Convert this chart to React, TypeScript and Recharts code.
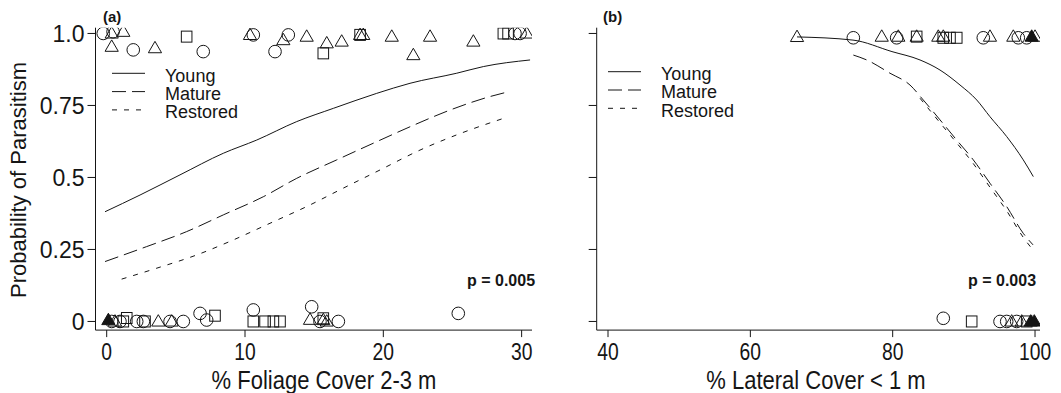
import React from 'react';
import { ComposedChart, Line, Scatter, XAxis, YAxis } from 'recharts';

const INK = '#151515';
const FONT = '"Liberation Sans", Arial, Helvetica, sans-serif';

// fitted curves, [x, probability]
const youngA = [[-0.12, 0.381], [2.41, 0.439], [5.3, 0.509], [8.43, 0.584], [10.85, 0.63], [13.74, 0.694], [16.39, 0.74], [19.52, 0.792], [21.93, 0.827], [25.31, 0.862], [27.23, 0.885], [30.61, 0.908]];
const matureA = [[-0.12, 0.208], [2.89, 0.26], [5.78, 0.312], [8.43, 0.37], [11.32, 0.433], [13.74, 0.497], [16.63, 0.561], [19.28, 0.619], [21.93, 0.676], [24.82, 0.734], [27.72, 0.781], [28.92, 0.796]];
const restoredA = [[1.08, 0.147], [3.62, 0.185], [6.51, 0.231], [9.15, 0.283], [11.81, 0.341], [14.46, 0.399], [17.11, 0.463], [19.76, 0.526], [22.65, 0.595], [25.31, 0.648], [28.8, 0.707]];

const youngB = [[66.56, 0.988], [74.42, 0.977], [79.9, 0.937], [83.84, 0.908], [86.65, 0.873], [89.46, 0.821], [91.81, 0.769], [93.67, 0.711], [96.02, 0.642], [98.35, 0.561], [99.76, 0.503]];
const matureB = [[74.47, 0.925], [76.35, 0.908], [79.62, 0.862], [82.43, 0.821], [84.3, 0.769], [86.65, 0.7], [88.99, 0.63], [91.33, 0.561], [93.67, 0.48], [96.02, 0.399], [98.35, 0.306], [99.72, 0.266]];
const restoredB = [[83.84, 0.775], [86.65, 0.69], [88.99, 0.62], [91.33, 0.548], [93.67, 0.466], [96.02, 0.384], [98.35, 0.292], [99.76, 0.247]];

// observed nests (1 = parasitised, 0 = not), by marker shape
const circlesA = [[-0.25, 1.0], [0.46, 1.006], [1.92, 0.943], [6.98, 0.937], [10.6, 0.995], [12.17, 0.937], [13.13, 0.995], [29.52, 1.0], [29.89, 1.0],
  [0.36, 0], [0.96, 0], [2.17, 0], [2.65, 0], [4.58, 0], [5.54, 0], [6.75, 0.028], [7.23, 0.005], [10.6, 0.04], [14.82, 0.051], [15.42, 0], [16.75, 0], [25.42, 0.028]];
const trianglesA = [[0.36, 1.0], [0.36, 0.954], [1.2, 1.006], [3.49, 0.949], [10.36, 0.995], [12.77, 0.977], [14.46, 0.989], [15.91, 0.966], [16.99, 0.972], [18.32, 0.995], [18.55, 0.995], [20.61, 0.989], [22.17, 0.925], [23.38, 0.989], [26.51, 0.972], [30.37, 1.0],
  [0.6, 0], [3.73, 0], [4.7, 0], [14.7, 0.006], [15.66, 0.005], [15.91, 0]];
const squaresA = [[5.78, 0.989], [15.66, 0.931], [18.32, 0.995], [28.68, 1.0], [29.02, 1.0],
  [1.2, 0], [1.45, 0.012], [2.77, 0], [7.83, 0.02], [10.6, 0], [11.45, 0], [12.05, 0], [12.53, 0], [15.66, 0.011]];
const filledA = [[0.12, 0.005]];

const circlesB = [[74.47, 0.985], [80.56, 0.985], [92.73, 0.985], [97.65, 0.985], [98.83, 0.985],
  [87.11, 0.011], [95.08, 0], [96.02, 0], [97.42, 0]];
const trianglesB = [[66.56, 0.988], [78.46, 0.989], [80.79, 0.989], [83.37, 0.989], [86.41, 0.989], [87.11, 0.989], [93.67, 0.989], [96.95, 0.989], [100.0, 0.989],
  [96.72, 0], [98.13, 0]];
const squaresB = [[83.37, 0.989], [87.11, 0.985], [88.05, 0.985], [89.0, 0.985],
  [91.1, 0], [98.83, 0]];
const filledB = [[99.53, 0.989], [99.4, 0], [99.9, 0]];

const xTicksA = [0, 10, 20, 30];
const xTicksB = [40, 60, 80, 100];
const yTicks = [0, 0.25, 0.5, 0.75, 1];

const legendItems = [
  { name: 'Young', dash: undefined },
  { name: 'Mature', dash: '14 6' },
  { name: 'Restored', dash: '5 7' },
];

const pts = (arr: number[][]) => arr.map(([x, p]) => ({ x, p }));

const OpenCircle = (props: any) => (
  <circle cx={props.cx} cy={props.cy} r={6.3} fill="none" stroke={INK} strokeWidth={1} />
);
const triPoints = (cx: number, cy: number) => `${cx},${cy - 6.8} ${cx + 6.6},${cy + 4.6} ${cx - 6.6},${cy + 4.6}`;
const OpenTriangle = (props: any) => (
  <polygon points={triPoints(props.cx, props.cy)} fill="none" stroke={INK} strokeWidth={1} />
);
const FilledTriangle = (props: any) => (
  <polygon points={triPoints(props.cx, props.cy)} fill={INK} stroke={INK} strokeWidth={1} />
);
const OpenSquare = (props: any) => (
  <rect x={props.cx - 5.3} y={props.cy - 5.5} width={10.6} height={11} fill="none" stroke={INK} strokeWidth={1} />
);

const yLabel = (v: number) => (v === 0 ? '0' : v === 1 ? '1.0' : String(v));

const YTick = (props: any) => (
  <text x={props.x} y={props.y} dy={8.2} textAnchor="end" fontSize={23} fill={INK} fontFamily={FONT}>
    {yLabel(props.payload.value)}
  </text>
);
const NoTick = () => <g />;
const XTick = (props: any) => (
  <g transform={`translate(${props.x},${props.y + 21}) scale(0.84,1)`}>
    <text textAnchor="middle" fontSize={23} fill={INK} fontFamily={FONT}>
      {props.payload.value}
    </text>
  </g>
);

function Panel({ left, width, yWidth, right, domain, ticks, young, mature, restored, circles, triangles, squares, filled, labels }: any) {
  return (
    <div style={{ position: 'absolute', left, top: 0 }}>
      <ComposedChart width={width} height={393} margin={{ top: 27.7, right, bottom: 0, left: 0 }}>
        <XAxis
          type="number"
          dataKey="x"
          domain={domain}
          ticks={ticks}
          interval={0}
          allowDataOverflow
          height={62.9}
          tickSize={7}
          tickMargin={2}
          axisLine={{ stroke: INK }}
          tickLine={{ stroke: INK }}
          tick={<XTick />}
        />
        <YAxis
          type="number"
          dataKey="p"
          domain={[-0.03, 1.02]}
          ticks={yTicks}
          interval={0}
          allowDataOverflow
          width={yWidth}
          tickSize={8}
          tickMargin={3}
          axisLine={{ stroke: INK }}
          tickLine={{ stroke: INK }}
          tick={labels ? <YTick /> : <NoTick />}
        />
        <Line data={pts(young)} dataKey="p" type="monotone" stroke={INK} strokeWidth={1} dot={false} activeDot={false} isAnimationActive={false} />
        <Line data={pts(mature)} dataKey="p" type="monotone" stroke={INK} strokeWidth={1} strokeDasharray="14 6" dot={false} activeDot={false} isAnimationActive={false} />
        <Line data={pts(restored)} dataKey="p" type="monotone" stroke={INK} strokeWidth={1} strokeDasharray="5 7" dot={false} activeDot={false} isAnimationActive={false} />
        <Scatter data={pts(circles)} shape={OpenCircle} isAnimationActive={false} />
        <Scatter data={pts(triangles)} shape={OpenTriangle} isAnimationActive={false} />
        <Scatter data={pts(squares)} shape={OpenSquare} isAnimationActive={false} />
        <Scatter data={pts(filled)} shape={FilledTriangle} isAnimationActive={false} />
      </ComposedChart>
    </div>
  );
}

function Legend({ x, y }: { x: number; y: number }) {
  return (
    <g>
      {legendItems.map((item, i) => (
        <g key={item.name}>
          <line x1={x} x2={x + 33} y1={y + i * 18.3} y2={y + i * 18.3} stroke={INK} strokeWidth={1} strokeDasharray={item.dash} />
          <text x={x + 53} y={y + i * 18.3 + 8.2} fontSize={18} fill={INK} fontFamily={FONT}>
            {item.name}
          </text>
        </g>
      ))}
    </g>
  );
}

export default function App() {
  return (
    <div style={{ position: 'absolute', left: 0, top: 0, width: 1061, height: 393, background: '#fff' }}>
      <Panel
        left={0}
        width={545}
        yWidth={95.5}
        right={13}
        domain={[-0.81, 30.75]}
        ticks={xTicksA}
        young={youngA}
        mature={matureA}
        restored={restoredA}
        circles={circlesA}
        triangles={trianglesA}
        squares={squaresA}
        filled={filledA}
        labels
      />
      <Panel
        left={545}
        width={516}
        yWidth={51.7}
        right={21}
        domain={[38.41, 100.7]}
        ticks={xTicksB}
        young={youngB}
        mature={matureB}
        restored={restoredB}
        circles={circlesB}
        triangles={trianglesB}
        squares={squaresB}
        filled={filledB}
        labels={false}
      />
      <svg width={1061} height={393} style={{ position: 'absolute', left: 0, top: 0, pointerEvents: 'none' }}>
        <text transform="translate(25.5,180) rotate(-90)" textAnchor="middle" fontSize={22} fill={INK} fontFamily={FONT}>
          Probability of Parasitism
        </text>
        <g transform="translate(324,389) scale(0.88,1)">
          <text textAnchor="middle" fontSize={25} fill={INK} fontFamily={FONT}>% Foliage Cover 2-3 m</text>
        </g>
        <g transform="translate(816,389) scale(0.88,1)">
          <text textAnchor="middle" fontSize={25} fill={INK} fontFamily={FONT}>% Lateral Cover &lt; 1 m</text>
        </g>
        <text x={103} y={22} fontSize={15} fontWeight="bold" fill={INK} fontFamily={FONT}>(a)</text>
        <text x={603} y={22} fontSize={15} fontWeight="bold" fill={INK} fontFamily={FONT}>(b)</text>
        <text x={467} y={286} fontSize={16} fontWeight="bold" fill={INK} fontFamily={FONT}>p = 0.005</text>
        <text x={968} y={286} fontSize={16} fontWeight="bold" fill={INK} fontFamily={FONT}>p = 0.003</text>
        <Legend x={112} y={73.3} />
        <Legend x={608} y={71.7} />
      </svg>
    </div>
  );
}
